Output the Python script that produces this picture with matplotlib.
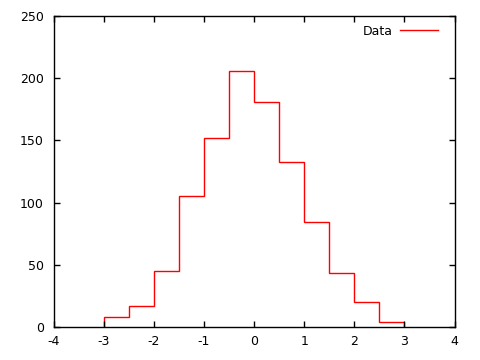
import numpy as np
import matplotlib.pyplot as plt

plt.rcParams.update({'font.family': 'DejaVu Sans',
                     'font.size': 9,
                     'axes.unicode_minus': False})

edges = [-3.0, -2.5, -2.0, -1.5, -1.0, -0.5, 0.0, 0.5, 1.0, 1.5, 2.0, 2.5, 3.0]
counts = [8, 17, 45, 105, 152, 206, 181, 133, 84, 43, 20, 4]

fig = plt.figure(figsize=(4.8, 3.6), dpi=100)
ax = fig.add_axes([0.1115, 0.0917, 0.8355, 0.8639])

ax.stairs(counts, edges, baseline=0, color="red", lw=1, label="Data")

ax.set_xlim(-4, 4)
ax.set_ylim(0, 250)
ax.set_xticks(np.arange(-4, 5, 1))
ax.set_yticks(np.arange(0, 251, 50))
ax.tick_params(direction="in", top=True, right=True, length=4, width=1,
               color="black", labelsize=9)
ax.tick_params(axis="x", pad=6)
ax.tick_params(axis="y", pad=7)
for s in ax.spines.values():
    s.set_linewidth(1)

ax.legend(frameon=False, loc="upper right", bbox_to_anchor=(0.971, 0.988),
          markerfirst=False, handlelength=3.0, handletextpad=0.6,
          borderaxespad=0, fontsize=9)

plt.savefig("out.png", dpi=100)
